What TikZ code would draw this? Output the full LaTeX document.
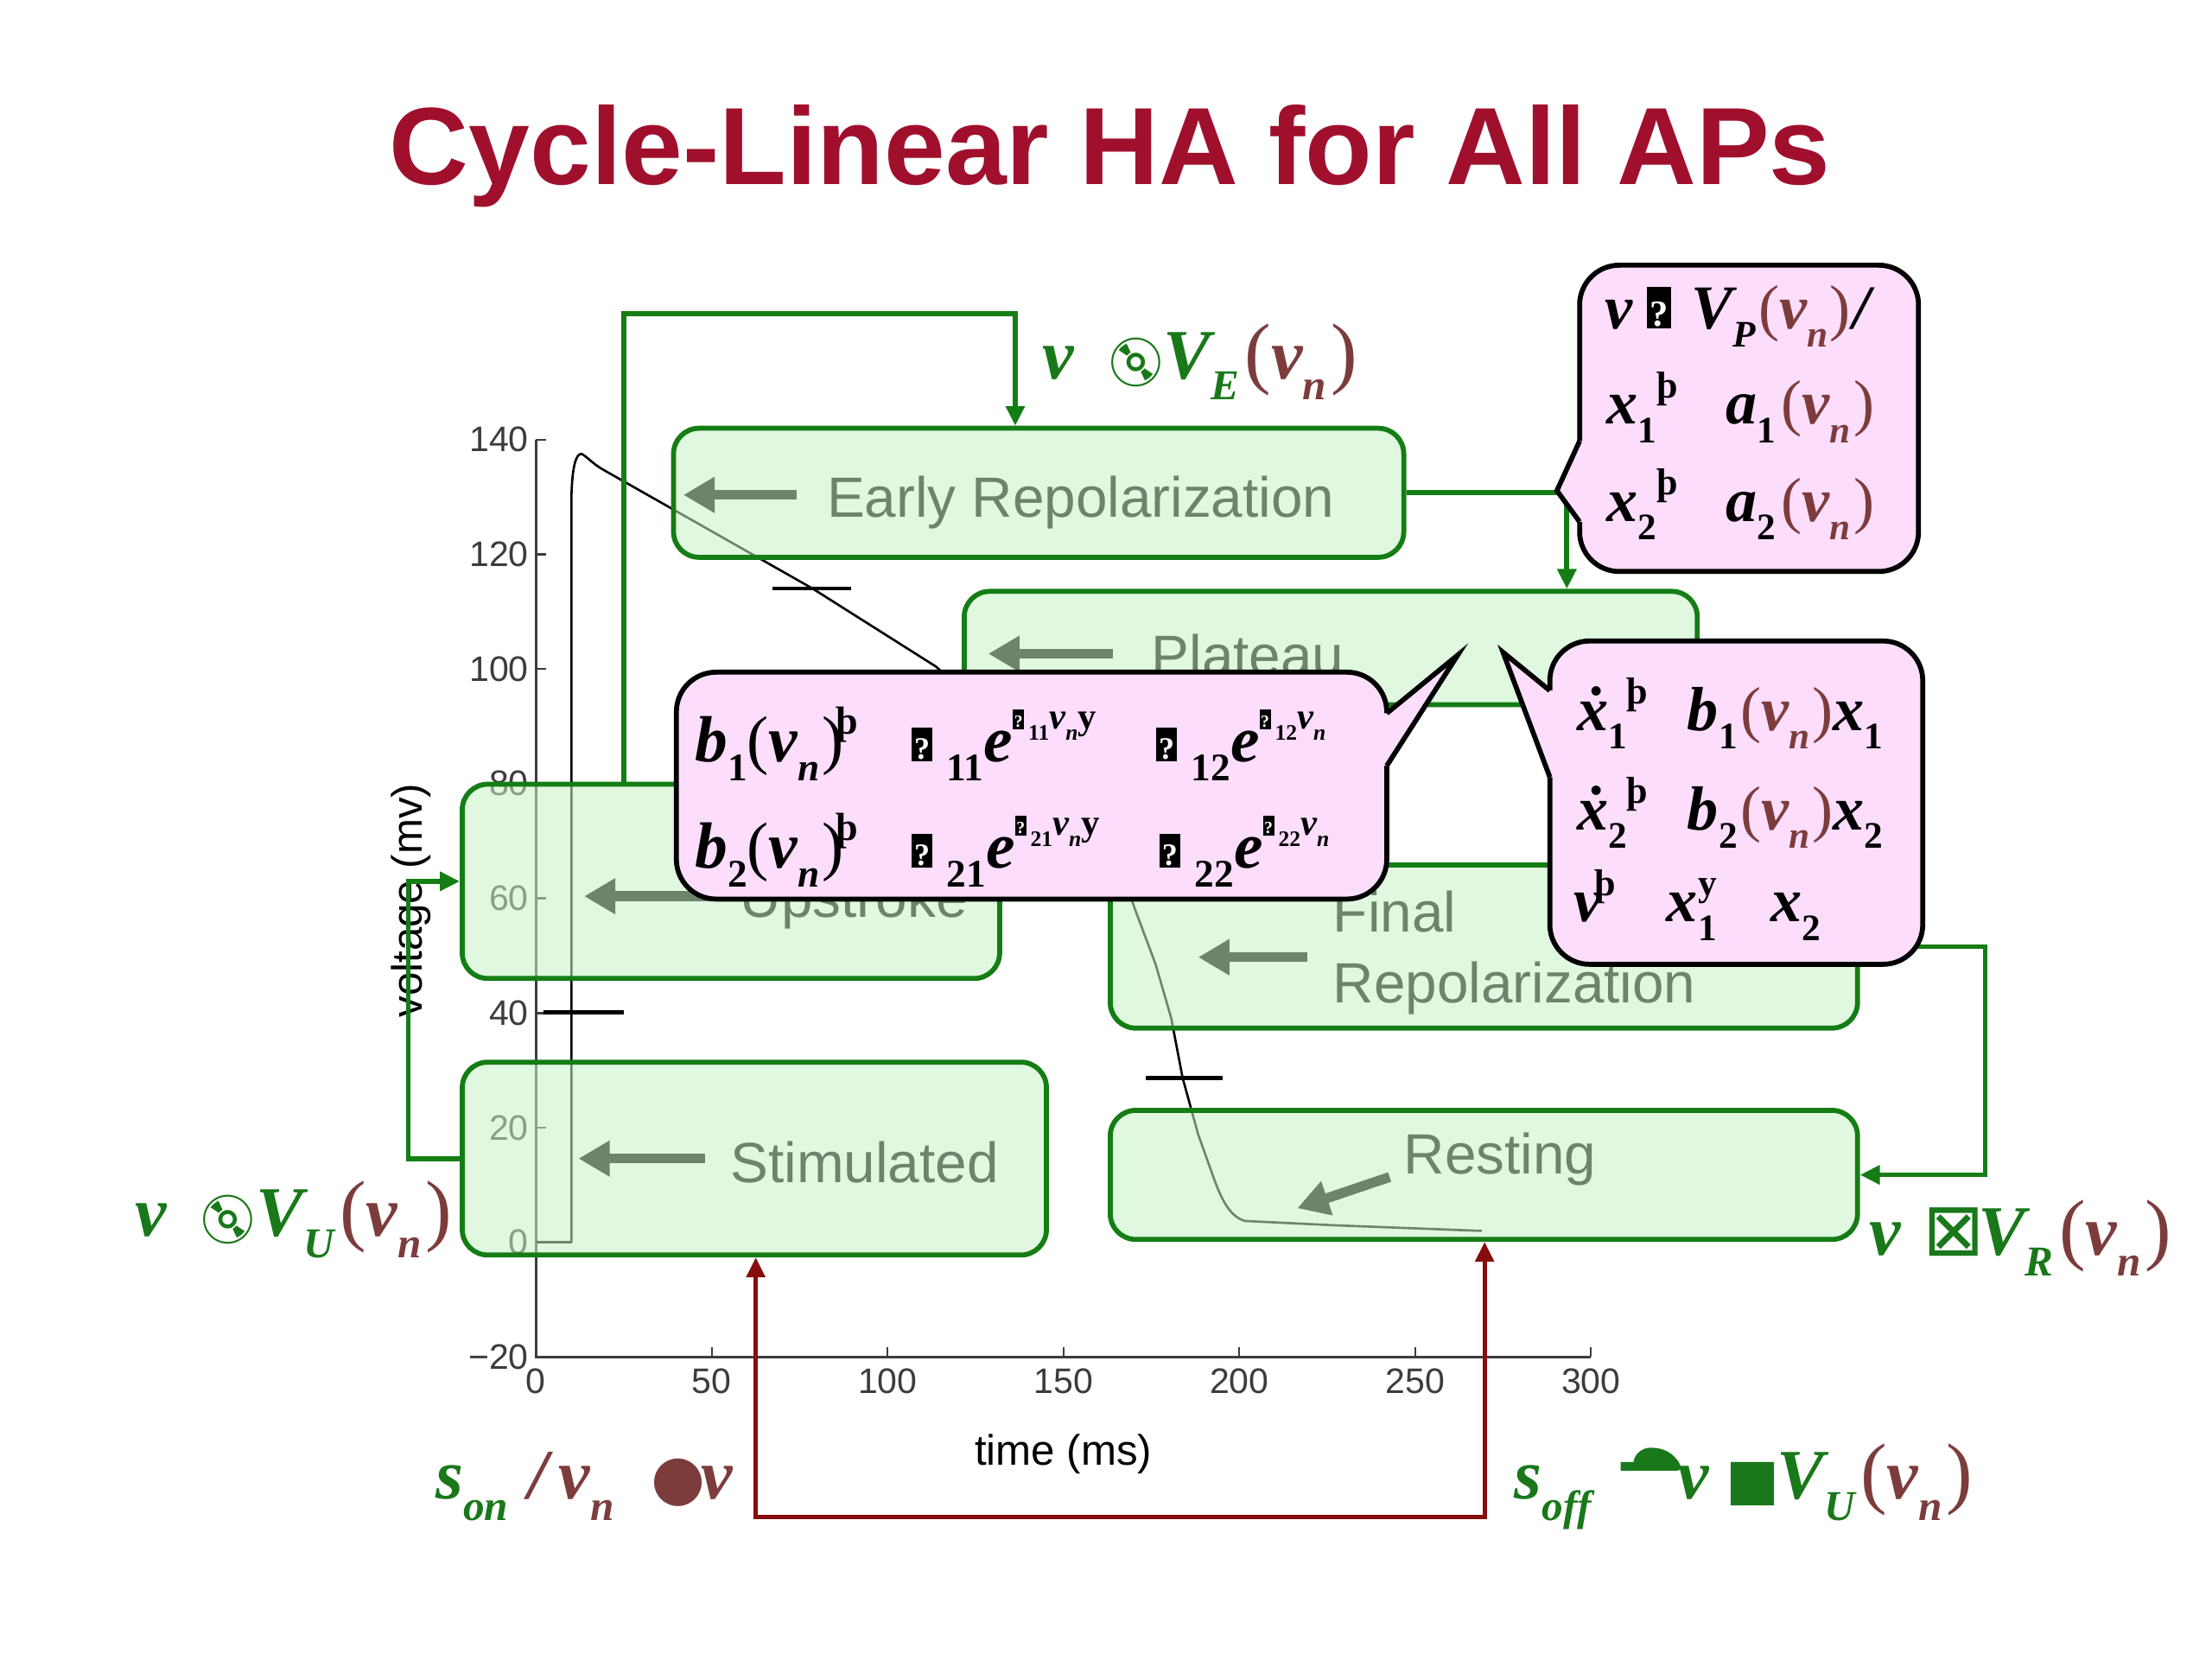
\documentclass[tikz,border=0pt]{standalone}
\usepackage{fontspec}
\setmainfont{Liberation Serif}
\newfontfamily\arial{Liberation Sans}
\newfontfamily\djv{DejaVu Sans}
\newfontfamily\emj{Noto Emoji}
\usetikzlibrary{arrows.meta}
\definecolor{ttl}{RGB}{160,16,45}
\definecolor{gline}{RGB}{20,125,20}
\definecolor{glab}{RGB}{25,120,25}
\definecolor{gfill}{RGB}{199,242,199}
\definecolor{gtxt}{RGB}{108,132,108}
\definecolor{brn}{RGB}{125,60,60}
\definecolor{dred}{RGB}{135,12,12}
\definecolor{pnk}{RGB}{252,221,252}
\definecolor{axc}{RGB}{60,60,60}
\makeatletter
\newcommand\lo[1]{\raisebox{-0.3em}{\fontsize{\fpeval{0.6*\f@size}}{1}\selectfont #1}}
\newcommand\hi[1]{\raisebox{0.42em}{\fontsize{\fpeval{0.6*\f@size}}{1}\selectfont #1}}
\makeatother
\newcommand\fs[1]{\fontsize{#1}{#1}\selectfont}
\newcommand\bi[1]{{\bfseries\itshape #1}}
\newcommand\bu[1]{{\bfseries\upshape #1}}
\newcommand\br[1]{\textcolor{brn}{#1}}
\newcommand\qb[3]{\rlap{\rule{#1}{#2}}\makebox[#1][c]{\raisebox{1.5pt}{\normalfont\bfseries\fontsize{#3}{#3}\selectfont\color{white}?}}}
\begin{document}
\begin{tikzpicture}[x=1pt,y=-1pt,line join=miter,
  gbox/.style={draw=gline, line width=3.5pt, fill=gfill, fill opacity=0.55, rounded corners=18pt, inner sep=0pt},
  pbox/.style={draw=black, line width=3.5pt, fill=pnk, rounded corners=28pt, inner sep=0pt},
  gconn/.style={draw=gline, line width=3.5pt, -{Triangle[length=14pt,width=13pt]}},
  rconn/.style={draw=dred, line width=3pt, {Triangle[length=14pt,width=13pt]}-{Triangle[length=14pt,width=13pt]}},
  barr/.style={draw=gtxt, line width=7pt, -{Triangle[length=22pt,width=24pt]}},
  btxt/.style={text=gtxt, font=\arial\fs{40}, anchor=base west, inner sep=0pt},
  lab/.style={anchor=base west, inner sep=0pt, font=\fs{50}},
  ptxt/.style={anchor=base west, inner sep=0pt, font=\fs{44}},
  tick/.style={font=\arial\fs{25}, text=axc, inner sep=0pt}]
\fill[white] (0,0) rectangle (1560,1170);
\useasboundingbox (0,0) rectangle (1560,1170);
% title
\node[anchor=base, text=ttl, font=\arial\bfseries\fs{77.5}, inner sep=0pt] (title) at (783,130) {Cycle-Linear HA for All APs};
% axes
\draw[axc, line width=1.6pt] (378,310) -- (378,957) -- (1122,957);
\foreach \v/\yy in {140/310,120/390.9,100/471.8,80/552.6,60/633.5,40/714.4,20/795.2,0/876.1,{−20}/957} {
  \draw[axc, line width=1.4pt] (378,\yy) -- (385,\yy);
  \node[tick, anchor=east] (yl\yy) at (373,\yy) {\v};
}
\foreach \t/\xx in {0/378,50/502,100/626,150/750,200/874,250/998,300/1122} {
  \draw[axc, line width=1.4pt] (\xx,957) -- (\xx,950);
  \node[tick, anchor=north] (xl\t) at (\xx,965) {\t};
}
\node[font=\arial\fs{30}, anchor=base, inner sep=0pt] (xlab) at (750,1033) {time (ms)};
\node[font=\arial\fs{30}, rotate=90, inner sep=0pt] (ylab) at (290,635) {voltage (mv)};
% trace
\draw[black, line width=1.6pt, line join=round] (378,876) -- (403,876) -- (403,350) .. controls (403.5,330) and (406,320) .. (410,320) .. controls (414,322) and (418,327) .. (425,331) -- (573,415) -- (660,470) -- (745,545) -- (790,610) -- (800,640) -- (815,680) -- (826,718) -- (834,760) -- (845,800) -- (855,828) .. controls (862,848) and (868,858) .. (878,861) -- (940,864) -- (1045,868);
% threshold marks
\draw[black, line width=3pt] (383,714) -- (440,714);
\draw[black, line width=3pt] (545,415) -- (600,415);
\draw[black, line width=3pt] (808,760) -- (862,760);
% green boxes
\node[gbox, minimum width=515pt, minimum height=91pt] (early) at (732.5,347.5) {};
\node[gbox, minimum width=517pt, minimum height=80pt] (plateau) at (938.5,457) {};
\node[gbox, minimum width=379pt, minimum height=137pt] (upstroke) at (515.5,621.5) {};
\node[gbox, minimum width=412pt, minimum height=136pt] (stim) at (532,817) {};
\node[gbox, minimum width=527pt, minimum height=115pt] (final) at (1046.5,667.5) {};
\node[gbox, minimum width=527pt, minimum height=91pt] (resting) at (1046.5,828.5) {};
% box texts and arrows
\node[btxt] (earlyT) at (583,365) {Early Repolarization};
\draw[barr] (562,349) -- (482,349);
\node[btxt] (plateauT) at (812,476) {Plateau};
\draw[barr] (785,461) -- (697,461);
\node[btxt] (upT) at (522,647) {Upstroke};
\draw[barr] (510,632) -- (412,632);
\node[btxt] (stimT) at (515,834) {Stimulated};
\draw[barr] (497,817) -- (408,817);
\node[btxt] (finalT1) at (940,657) {Final};
\node[btxt] (finalT2) at (940,707) {Repolarization};
\draw[barr] (922,675) -- (845,675);
\node[btxt] (restT) at (990,828) {Resting};
\draw[barr] (980,830) -- (915,852);
% connectors
\coordinate (eUp) at (440,221); \coordinate (eDn) at (716,221);
\draw[gconn] (upstroke.north -| eUp) -- (eUp) -- (eDn) -- (eDn |- early.north);
\coordinate (pj) at (1105,347.5);
\draw[gconn] (early.east) -- (pj) -- (pj |- plateau.north);
\coordinate (rj1) at (1400,667.5); \coordinate (rj2) at (1400,828.5);
\draw[gconn] (final.east) -- (rj1) -- (rj2) -- (resting.east);
\coordinate (uj1) at (288,817); \coordinate (uj2) at (288,621.5);
\draw[gconn] (stim.west) -- (uj1) -- (uj2) -- (upstroke.west);
\coordinate (sj1) at (533,1070); \coordinate (sj2) at (1047,1070);
\draw[rconn] (stim.south -| sj1) -- (sj1) -- (sj2) -- (resting.south -| sj2);
% guard labels
\node[lab] (labE) at (735,267) {{\color{glab}\bi{v}\hspace{22pt}{\emj\fs{34}💿}\hspace{-2pt}\bi{V}\lo{\bi{E}}}\hspace{4pt}\br{\fs{56}(\fs{50}\bi{v}\lo{\bi{n}}\hspace{3pt}\fs{56})}};
\node[lab] (labU) at (95,872) {{\color{glab}\bi{v}\hspace{22pt}{\emj\fs{34}💿}\hspace{-2pt}\bi{V}\lo{\bi{U}}}\hspace{4pt}\br{\fs{56}(\fs{50}\bi{v}\lo{\bi{n}}\hspace{3pt}\fs{56})}};
\node[lab] (labR) at (1318,885) {{\color{glab}\bi{v}\hspace{16pt}{\djv\fs{52}⊠}\hspace{-5pt}\bi{V}\lo{\bi{R}}}\hspace{4pt}\br{\fs{56}(\fs{50}\bi{v}\lo{\bi{n}}\hspace{3pt}\fs{56})}};
\node[lab] (labOn) at (307,1057) {{\color{glab}\bi{s}\lo{\bi{on}}}\hspace{14pt}\br{\bi{/}\hspace{8pt}\bi{v}\lo{\bi{n}}\hspace{26pt}{\djv\fs{44}●}\hspace{-3pt}\bi{v}}};
\node[lab] (labOff) at (1068,1057) {{\color{glab}\bi{s}\lo{\bi{off}}}};
\fill[glab] (1143,1031) -- (1152,1031) .. controls (1153,1024) and (1160,1020) .. (1166,1021) .. controls (1174,1021) and (1183,1026) .. (1186,1036) -- (1183,1037) -- (1143,1037) -- cycle;
\node[lab] (labOff2) at (1183,1057) {{\color{glab}\bi{v}\hspace{12pt}{\djv\fs{40}■}\hspace{-2pt}\bi{V}\lo{\bi{U}}}\hspace{4pt}\br{\fs{56}(\fs{50}\bi{v}\lo{\bi{n}}\hspace{3pt}\fs{56})}};
% pink bubble A
\node[pbox, minimum width=239pt, minimum height=216pt] (pinkA) at (1233.5,295) {};
\fill[pnk] (1119,311) -- (1114,311) -- (1098,346) -- (1114,368) -- (1119,368) -- cycle;
\draw[black, line width=3.5pt] (1114,311) -- (1098,346) -- (1114,368);
\node[ptxt] (rowA1) at (1132,231.6) {\bi{v}\hspace{10pt}\qb{17pt}{29pt}{26}\hspace{14pt}\bi{V}\lo{\bi{P}}\hspace{2pt}\br{(\bi{v}\lo{\bi{n}}\hspace{1pt})}\hspace{2pt}\bi{/}};
\node[ptxt] (rowA2) at (1133,299) {\bi{x}\lo{\bu{1}}\hi{\bu{þ}}\hspace{34pt}\bi{a}\lo{\bu{1}}\hspace{4pt}\br{(\bi{v}\lo{\bi{n}}\hspace{2pt})}};
\node[ptxt] (rowA3) at (1133,367.6) {\bi{x}\lo{\bu{2}}\hi{\bu{þ}}\hspace{34pt}\bi{a}\lo{\bu{2}}\hspace{4pt}\br{(\bi{v}\lo{\bi{n}}\hspace{2pt})}};
% pink bubble B
\node[pbox, minimum width=501pt, minimum height=160pt] (pinkB) at (727.5,554) {};
\fill[pnk] (973,503) -- (978,503) -- (1028,462) -- (978,540) -- (973,540) -- cycle;
\draw[black, line width=3.5pt] (978,503) -- (1028,462) -- (978,540);
\node[ptxt, font=\fs{46}] (rowB1) at (490,537) {\bi{b}\lo{\bu{1}}(\bi{v}\lo{\bi{n}}\hspace{2pt})\hspace{-6pt}\hi{\bu{þ}}\hspace{38pt}\qb{15pt}{24pt}{22}\hspace{10pt}\lo{\bu{11}}\bi{e}\raisebox{0.5em}{\fs{26}\qb{8pt}{14pt}{12}\hspace{3pt}\lo{\bu{11}}\bi{v}\lo{\bi{n}}\bu{y}}\hspace{42pt}\qb{15pt}{24pt}{22}\hspace{10pt}\lo{\bu{12}}\bi{e}\raisebox{0.5em}{\fs{26}\qb{8pt}{14pt}{12}\hspace{3pt}\lo{\bu{12}}\bi{v}\lo{\bi{n}}}};
\node[ptxt, font=\fs{46}] (rowB2) at (490,612) {\bi{b}\lo{\bu{2}}(\bi{v}\lo{\bi{n}}\hspace{2pt})\hspace{-6pt}\hi{\bu{þ}}\hspace{38pt}\qb{15pt}{24pt}{22}\hspace{10pt}\lo{\bu{21}}\bi{e}\raisebox{0.5em}{\fs{26}\qb{8pt}{14pt}{12}\hspace{3pt}\lo{\bu{21}}\bi{v}\lo{\bi{n}}\bu{y}}\hspace{42pt}\qb{15pt}{24pt}{22}\hspace{10pt}\lo{\bu{22}}\bi{e}\raisebox{0.5em}{\fs{26}\qb{8pt}{14pt}{12}\hspace{3pt}\lo{\bu{22}}\bi{v}\lo{\bi{n}}}};
% pink bubble C
\node[pbox, minimum width=263pt, minimum height=228pt] (pinkC) at (1224.5,566) {};
\fill[pnk] (1098,487) -- (1093,487) -- (1060,460) -- (1093,548) -- (1098,548) -- cycle;
\draw[black, line width=3.5pt] (1093,487) -- (1060,460) -- (1093,548);
\node[ptxt] (rowC1) at (1112,515) {\bi{\.x}\lo{\bu{1}}\hi{\bu{þ}}\hspace{28pt}\bi{b}\lo{\bu{1}}\hspace{2pt}\br{(\bi{v}\lo{\bi{n}}\hspace{2pt})}\bi{x}\lo{\bu{1}}};
\node[ptxt] (rowC2) at (1112,585) {\bi{\.x}\lo{\bu{2}}\hi{\bu{þ}}\hspace{28pt}\bi{b}\lo{\bu{2}}\hspace{2pt}\br{(\bi{v}\lo{\bi{n}}\hspace{2pt})}\bi{x}\lo{\bu{2}}};
\node[ptxt] (rowC3) at (1110,650) {\bi{v}\hspace{-5pt}\hi{\bu{þ}}\hspace{36pt}\bi{x}\rlap{\lo{\bu{1}}}\hi{\bu{y}}\hspace{38pt}\bi{x}\lo{\bu{2}}};
\end{tikzpicture}
\end{document}
